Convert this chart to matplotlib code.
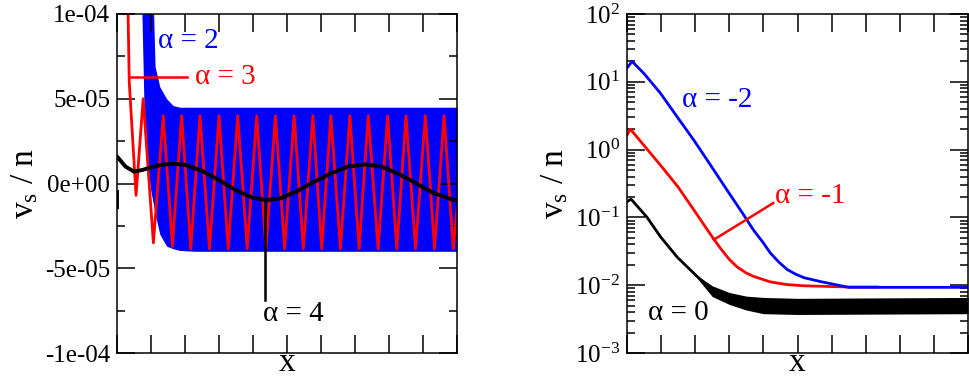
import matplotlib
matplotlib.use("Agg")
import matplotlib.pyplot as plt
import numpy as np
from matplotlib.ticker import MultipleLocator, FixedLocator, LogLocator, NullFormatter, FuncFormatter

plt.rcParams["font.family"] = ["Liberation Serif", "DejaVu Serif"]
plt.rcParams["mathtext.fontset"] = "custom"
plt.rcParams["mathtext.rm"] = "Liberation Serif"
plt.rcParams["mathtext.it"] = "Liberation Serif:italic"

# ---- left panel: alpha = 2, 3, 4 (linear scale) ----
# alpha = 2: dense fast oscillation, drawn as its envelope
a2_x = [0.70, 0.80, 0.90, 1.00, 1.05, 1.12, 1.26, 1.46, 1.65, 1.85, 2.30, 10.0]
a2_upper = [1.3e-4, 1.3e-4, 1.3e-4, 1.3e-4, 1.2e-4, 6.9e-5, 5.7e-5, 5.0e-5, 4.6e-5, 4.5e-5, 4.5e-5, 4.5e-5]
a2_lower = [1.3e-4, 4.0e-5, 1.0e-5, -0.5e-5, -1.0e-5, -1.8e-5, -3.0e-5, -3.7e-5, -3.85e-5, -3.95e-5, -4.0e-5, -4.0e-5]

# alpha = 3: extrema of the oscillation
a3_x = [0.30, 0.36, 0.56, 0.77, 1.07, 1.36, 1.63, 1.90, 2.17, 2.44, 2.72, 3.00, 3.27, 3.55, 3.83,
        4.11, 4.38, 4.66, 4.93, 5.21, 5.48, 5.76, 6.02, 6.29, 6.57, 6.85, 7.12, 7.39, 7.68,
        7.96, 8.23, 8.50, 8.78, 9.07, 9.34, 9.62, 9.89, 10.0]
a3_y = [1.3e-4, 6.0e-5, -0.7e-5, 5.0e-5, -3.5e-5, 4.0e-5, -3.7e-5, 4.0e-5, -3.85e-5, 4.0e-5, -3.85e-5,
        4.0e-5, -3.85e-5, 4.0e-5, -3.85e-5, 4.0e-5, -3.85e-5, 4.0e-5, -3.85e-5, 4.0e-5, -3.85e-5,
        4.0e-5, -3.85e-5, 4.0e-5, -3.85e-5, 4.0e-5, -3.85e-5, 4.0e-5, -3.85e-5, 4.0e-5, -3.85e-5,
        4.0e-5, -3.85e-5, 4.0e-5, -3.85e-5, 4.0e-5, -3.85e-5, -1.5e-5]

# alpha = 4: slow oscillation (NaN splits the initial jump at x = 0)
a4_x = [0.0, 0.0, np.nan, 0.02, 0.25, 0.5, 0.75, 1.0, 1.25, 1.5, 1.75, 2.0, 2.5, 3.0, 3.5, 4.0,
        4.4, 4.8, 5.3, 5.8, 6.3, 6.8, 7.3, 7.8, 8.3, 8.8, 9.3, 9.9, 10.0]
a4_y = [-1.4e-5, -0.5e-5, np.nan, 1.55e-5, 1.0e-5, 0.7e-5, 0.8e-5, 0.95e-5, 1.08e-5, 1.14e-5, 1.15e-5,
        1.1e-5, 0.75e-5, 0.2e-5, -0.4e-5, -0.85e-5, -0.98e-5, -0.88e-5, -0.45e-5, 0.1e-5, 0.6e-5,
        1.0e-5, 1.13e-5, 0.98e-5, 0.55e-5, 0.0, -0.55e-5, -0.98e-5, -0.97e-5]

# ---- right panel: alpha = -2, -1, 0 (log scale) ----
am2_x = [0.0, 0.15, 0.5, 0.98, 1.5, 1.96, 2.45, 2.94, 3.38, 3.71, 4.0, 4.2, 4.45, 4.7, 4.95,
         5.19, 5.68, 6.5, 10.0]
am2_y = [16.0, 20.0, 13.2, 6.8, 2.9, 1.38, 0.59, 0.25, 0.117, 0.065, 0.042, 0.030, 0.022, 0.017,
         0.0145, 0.0129, 0.0113, 0.0093, 0.0093]

am1_x = [0.0, 0.1, 0.5, 0.98, 1.5, 1.96, 2.45, 2.74, 3.0, 3.23, 3.5, 3.71, 4.2, 4.7, 5.19, 6.5, 7.35]
am1_y = [1.64, 2.0, 1.15, 0.59, 0.28, 0.129, 0.056, 0.035, 0.024, 0.0186, 0.0151, 0.0135, 0.0112,
         0.0102, 0.0098, 0.0094, 0.0094]

a0_x = [0.0, 0.12, 0.59, 0.98, 1.47, 2.06, 2.5, 3.0, 3.5, 4.0, 5.0, 10.0]
a0_y = [0.17, 0.186, 0.10, 0.052, 0.026, 0.0134, 0.0085, 0.0064, 0.0055, 0.005, 0.0048, 0.0049]
# noise band of alpha = 0
a0_band_x = [2.05, 2.5, 3.0, 3.5, 4.0, 5.0, 10.0]
a0_band_hi = [0.0140, 0.0098, 0.0078, 0.0069, 0.0066, 0.0064, 0.0066]
a0_band_lo = [0.0128, 0.0068, 0.0052, 0.0043, 0.0038, 0.0037, 0.0038]

left_yticks = [-1e-4, -5e-5, 0.0, 5e-5, 1e-4]

BLUE, RED, BLACK = "#0000ff", "#ff0000", "#000000"

fig = plt.figure(figsize=(9.69, 3.78), dpi=100)
ax1 = fig.add_axes([117 / 969, 25 / 378, 340 / 969, 339 / 378])
ax2 = fig.add_axes([627 / 969, 25 / 378, 341 / 969, 339 / 378])


def style_axis(ax):
    for s in ax.spines.values():
        s.set_linewidth(1.1)
    ax.tick_params(which="both", direction="in", top=True, right=True, width=1.1)
    ax.tick_params(which="major", length=13, labelsize=18, pad=5)
    ax.tick_params(which="minor", length=6)
    ax.set_xlim(0, 10)
    ax.xaxis.set_major_locator(MultipleLocator(1))
    ax.xaxis.set_major_formatter(NullFormatter())
    ax.set_xlabel("x", fontsize=24, labelpad=-9)
    ax.set_ylabel(r"v$_{\rm s}$ / n", fontsize=24, labelpad=3)


# left panel
ax1.fill_between(a2_x, a2_lower, a2_upper, color=BLUE, lw=0)
ax1.plot(a3_x, a3_y, color=RED, lw=2.0)
ax1.plot(a4_x, a4_y, color=BLACK, lw=2.8)
ax1.plot([0.38, 2.06], [6.3e-5, 6.3e-5], color=RED, lw=1.8)
ax1.plot([4.35, 4.35], [-1.0e-5, -6.9e-5], color=BLACK, lw=1.8)
ax1.text(1.2, 8.4e-5, "α = 2", color=BLUE, fontsize=21, va="center")
ax1.text(2.3, 6.3e-5, "α = 3", color=RED, fontsize=21, va="center")
ax1.text(4.3, -7.7e-5, "α = 4", color=BLACK, fontsize=21, va="center")
ax1.set_ylim(-1e-4, 1e-4)
ax1.yaxis.set_major_locator(FixedLocator(left_yticks))
ax1.yaxis.set_minor_locator(MultipleLocator(2.5e-5))
ax1.yaxis.set_major_formatter(FuncFormatter(lambda v, p: f"{v:.0e}"))
style_axis(ax1)

# right panel
ax2.set_yscale("log")
ax2.fill_between(a0_band_x, a0_band_lo, a0_band_hi, color=BLACK, lw=0)
ax2.plot(a0_x, a0_y, color=BLACK, lw=2.0)
ax2.plot(am1_x, am1_y, color=RED, lw=2.0)
ax2.plot(am2_x, am2_y, color=BLUE, lw=2.0)
ax2.plot([2.55, 4.29], [0.047, 0.163], color=RED, lw=1.8)
ax2.text(1.62, 5.4, "α = -2", color=BLUE, fontsize=21, va="center")
ax2.text(4.35, 0.21, "α = -1", color=RED, fontsize=21, va="center")
ax2.text(0.62, 0.0039, "α = 0", color=BLACK, fontsize=21, va="center")
ax2.set_ylim(1e-3, 1e2)
ax2.yaxis.set_major_locator(LogLocator(base=10, numticks=10))
ax2.yaxis.set_minor_locator(LogLocator(base=10, subs=np.arange(2, 10), numticks=20))
ax2.yaxis.set_minor_formatter(NullFormatter())
style_axis(ax2)

fig.savefig("out.png", dpi=100)
